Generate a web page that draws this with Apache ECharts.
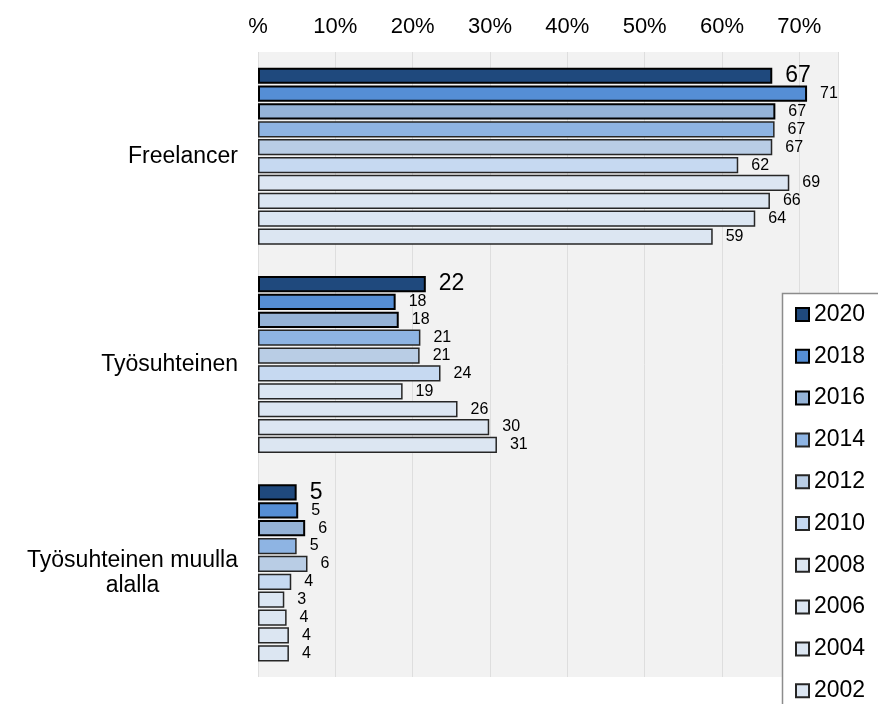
<!DOCTYPE html>
<html>
<head>
<meta charset="utf-8">
<script src="https://cdn.jsdelivr.net/npm/echarts@6/dist/echarts.min.js"></script>
<style>
  html, body { margin: 0; padding: 0; background: #fff; }
  #chart { width: 878px; height: 704px; }
</style>
</head>
<body>
<div id="chart"></div>
<script>
const categories = ["Freelancer", "Työsuhteinen", "Työsuhteinen muulla\nalalla"];
const years = ["2020", "2018", "2016", "2014", "2012", "2010", "2008", "2006", "2004", "2002"];
const xTicks = [0, 10, 20, 30, 40, 50, 60, 70];

// values (labels are rounded)
const v2020 = [66.5, 21.7, 5.0];
const v2018 = [71.0, 17.8, 5.2];
const v2016 = [66.9, 18.2, 6.1];
const v2014 = [66.8, 21.0, 5.0];
const v2012 = [66.5, 20.9, 6.4];
const v2010 = [62.1, 23.6, 4.3];
const v2008 = [68.7, 18.7, 3.4];
const v2006 = [66.2, 25.8, 3.7];
const v2004 = [64.3, 29.9, 4.0];
const v2002 = [58.8, 30.9, 4.0];
const values = [v2020, v2018, v2016, v2014, v2012, v2010, v2008, v2006, v2004, v2002];

const colors = ["#1f497d", "#558ed5", "#95b3d7", "#8eb4e3", "#b9cde5", "#c6d9f1", "#dce6f2", "#dce6f2", "#dce6f2", "#dce6f2"];
const font = "Liberation Sans";

const chart = echarts.init(document.getElementById("chart"));

const series = years.map((y, i) => ({
	name: y,
	type: "bar",
	barCategoryGap: "15%",
	barGap: "10%",
	itemStyle: {
		color: colors[i],
		borderColor: i < 3 ? "#000" : "#262626",
		borderWidth: i < 3 ? 2 : 1.5
	},
	label: {
		show: true,
		position: "right",
		distance: 13,
		color: "#000",
		fontFamily: font,
		fontSize: i === 0 ? 23 : 16,
		formatter: (p) => Math.round(p.value)
	},
	data: values[i]
}));

chart.setOption({
	backgroundColor: "#fff",
	animation: false,
	grid: {
		left: 258,
		right: 40,
		top: 52,
		bottom: 27,
		show: true,
		backgroundColor: "#f2f2f2",
		borderWidth: 0
	},
	xAxis: {
		type: "value",
		position: "top",
		min: xTicks[0],
		max: 75,
		interval: 10,
		axisLine: { show: false },
		axisTick: { show: false },
		splitLine: { show: true, lineStyle: { color: "#dedede", width: 1 } },
		axisLabel: {
			color: "#000",
			fontFamily: font,
			fontSize: 22,
			margin: 14,
			showMaxLabel: false,
			formatter: (v) => (v === 0 ? "%" : v + "%")
		}
	},
	yAxis: {
		type: "category",
		inverse: true,
		data: categories,
		axisLine: { show: false },
		axisTick: { show: false },
		splitLine: { show: false },
		axisLabel: {
			margin: 20,
			align: "right",
			formatter: (v) => v.split("\n").map((s) => "{c|" + s + "}").join("\n"),
			rich: {
				c: {
					align: "center",
					color: "#000",
					fontFamily: font,
					fontSize: 23,
					lineHeight: 25
				}
			}
		}
	},
	legend: {
		orient: "vertical",
		left: 795,
		top: 303,
		height: 420,
		z: 10,
		padding: 0,
		icon: "rect",
		itemWidth: 13,
		itemHeight: 13,
		itemGap: 18.8,
		textStyle: {
			color: "#000",
			fontFamily: font,
			fontSize: 23,
			lineHeight: 23
		},
		data: years
	},
	graphic: [{
		type: "rect",
		z: 5,
		shape: { x: 782.5, y: 293.5, width: 200, height: 500 },
		style: { fill: "#fff", stroke: "#8c8c8c", lineWidth: 1.5 }
	}],
	series
});
</script>
</body>
</html>
